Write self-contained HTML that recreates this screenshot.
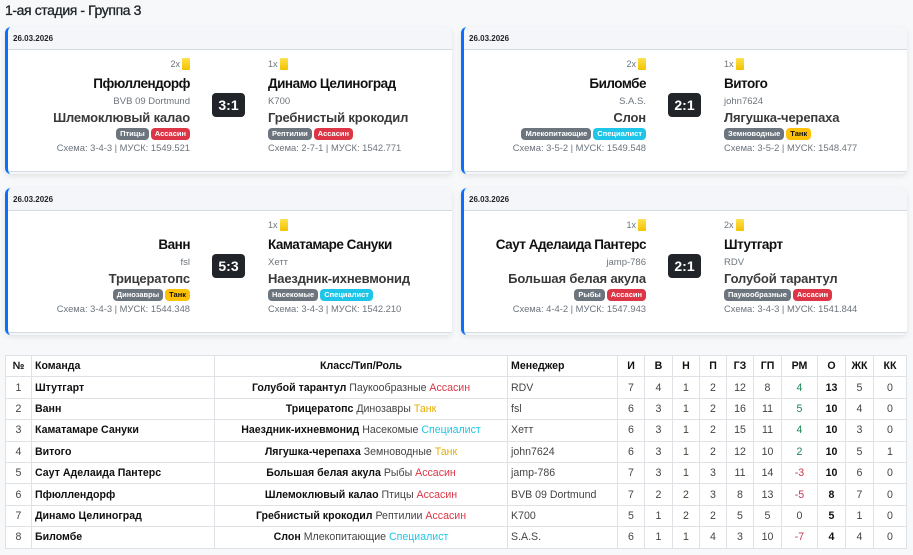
<!DOCTYPE html>
<html><head><meta charset="utf-8">
<style>
*{box-sizing:border-box;margin:0;padding:0}
html,body{width:913px;height:555px;overflow:hidden;background:#f6f8fa;font-family:"Liberation Sans","Noto Sans CJK SC",sans-serif;color:#212529}
.title{position:absolute;left:5px;top:1px;font-size:14px;letter-spacing:-0.4px;line-height:18px;color:#212529;-webkit-text-stroke:0.3px #212529}
.card{position:absolute;width:447px;height:147px;background:#fff;border-left:3px solid #0d6efd;border-radius:6px;box-shadow:0 2px 6px rgba(0,0,0,0.09);overflow:hidden}
.hdr{position:absolute;left:0;top:0;right:0;height:23px;background:#f4f6f9;border-bottom:1px solid #d5dae0}
.hdr span{position:absolute;left:5px;top:6px;font-size:8px;font-weight:bold;line-height:11px;color:#212529}
.ftr{position:absolute;left:0;right:0;top:144px;height:4px;background:#f4f6f9;border-top:1px solid #d5dae0}
.col{position:absolute;top:0;width:182px}
.L{left:0;text-align:right}
.R{left:260px;text-align:left}
.yc{position:absolute;top:31px;height:12px;font-size:9px;line-height:12px;color:#6c757d;width:182px}
.yc i{display:inline-block;width:8px;height:12px;background:linear-gradient(#ffe14d,#f2c200);border-radius:1px;vertical-align:top;margin-left:2px}
.nm{position:absolute;top:48px;width:182px;font-size:13.5px;letter-spacing:-0.5px;font-weight:bold;line-height:18px;color:#111;white-space:nowrap}
.mg{position:absolute;top:69px;width:182px;font-size:9.5px;line-height:12px;color:#6c757d;white-space:nowrap}
.cl{position:absolute;top:82px;width:182px;font-size:13px;letter-spacing:-0.15px;font-weight:bold;line-height:17px;color:#3a3a3a;white-space:nowrap}
.bd{position:absolute;top:101px;width:182px;height:12px;white-space:nowrap}
.bd b{display:inline-block;height:12px;line-height:12px;font-size:7.5px;font-weight:bold;color:#fff;padding:0 4px;border-radius:4px;margin-left:2px;vertical-align:top}
.R .bd b{margin-left:0;margin-right:2px}
.g{background:#6c757d}.r{background:#dc3545}.c{background:#1ec5e8}.y{background:#ffc107;color:#111!important}
.sc{position:absolute;top:115px;width:182px;font-size:9.4px;line-height:12px;color:#6c757d;white-space:nowrap}
.L>div{right:0}
.score{position:absolute;left:204px;top:66px;width:33px;height:24px;background:#212529;border-radius:4px;color:#fff;font-size:14px;font-weight:bold;line-height:24px;text-align:center}
table{position:absolute;left:5px;top:355px;width:901px;border-collapse:collapse;table-layout:fixed;background:#fff;font-size:10.6px;color:#212529}
td,th{border:1px solid #dee2e6;height:21.4px;padding:0 3px;white-space:nowrap;overflow:hidden}
th{font-weight:bold;text-align:center;color:#111}
td{text-align:center;color:#444}
.tl{text-align:left}
.tb{font-weight:bold;color:#111}
.rd{color:#dc3545}.yl{color:#e6ad06}.cy{color:#1ec5e8}.gr{color:#198754}.ng{color:#c8364f}
</style></head><body>
<div class="title">1-ая стадия - Группа 3</div>

<div class="card" style="left:5px;top:27px">
 <div class="hdr"><span>26.03.2026</span></div>
 <div class="col L">
  <div class="yc">2x<i></i></div>
  <div class="nm">Пфюллендорф</div>
  <div class="mg">BVB 09 Dortmund</div>
  <div class="cl">Шлемоклювый калао</div>
  <div class="bd"><b class="g">Птицы</b><b class="r">Ассасин</b></div>
  <div class="sc">Схема: 3-4-3 | МУСК: 1549.521</div>
 </div>
 <div class="score">3:1</div>
 <div class="col R">
  <div class="yc">1x<i></i></div>
  <div class="nm">Динамо Целиноград</div>
  <div class="mg">K700</div>
  <div class="cl">Гребнистый крокодил</div>
  <div class="bd"><b class="g">Рептилии</b><b class="r">Ассасин</b></div>
  <div class="sc">Схема: 2-7-1 | МУСК: 1542.771</div>
 </div>
 <div class="ftr"></div>
</div>

<div class="card" style="left:461px;top:27px;width:446px">
 <div class="hdr"><span>26.03.2026</span></div>
 <div class="col L">
  <div class="yc">2x<i></i></div>
  <div class="nm">Биломбе</div>
  <div class="mg">S.A.S.</div>
  <div class="cl">Слон</div>
  <div class="bd"><b class="g">Млекопитающие</b><b class="c">Специалист</b></div>
  <div class="sc">Схема: 3-5-2 | МУСК: 1549.548</div>
 </div>
 <div class="score">2:1</div>
 <div class="col R">
  <div class="yc">1x<i></i></div>
  <div class="nm">Витого</div>
  <div class="mg">john7624</div>
  <div class="cl">Лягушка-черепаха</div>
  <div class="bd"><b class="g">Земноводные</b><b class="y">Танк</b></div>
  <div class="sc">Схема: 3-5-2 | МУСК: 1548.477</div>
 </div>
 <div class="ftr"></div>
</div>

<div class="card" style="left:5px;top:188px">
 <div class="hdr"><span>26.03.2026</span></div>
 <div class="col L">
  <div class="nm">Ванн</div>
  <div class="mg">fsl</div>
  <div class="cl">Трицератопс</div>
  <div class="bd"><b class="g">Динозавры</b><b class="y">Танк</b></div>
  <div class="sc">Схема: 3-4-3 | МУСК: 1544.348</div>
 </div>
 <div class="score">5:3</div>
 <div class="col R">
  <div class="yc">1x<i></i></div>
  <div class="nm">Каматамаре Сануки</div>
  <div class="mg">Хетт</div>
  <div class="cl">Наездник-ихневмонид</div>
  <div class="bd"><b class="g">Насекомые</b><b class="c">Специалист</b></div>
  <div class="sc">Схема: 3-4-3 | МУСК: 1542.210</div>
 </div>
 <div class="ftr"></div>
</div>

<div class="card" style="left:461px;top:188px;width:446px">
 <div class="hdr"><span>26.03.2026</span></div>
 <div class="col L">
  <div class="yc">1x<i></i></div>
  <div class="nm">Саут Аделаида Пантерс</div>
  <div class="mg">jamp-786</div>
  <div class="cl">Большая белая акула</div>
  <div class="bd"><b class="g">Рыбы</b><b class="r">Ассасин</b></div>
  <div class="sc">Схема: 4-4-2 | МУСК: 1547.943</div>
 </div>
 <div class="score">2:1</div>
 <div class="col R">
  <div class="yc">2x<i></i></div>
  <div class="nm">Штутгарт</div>
  <div class="mg">RDV</div>
  <div class="cl">Голубой тарантул</div>
  <div class="bd"><b class="g">Паукообразные</b><b class="r">Ассасин</b></div>
  <div class="sc">Схема: 3-4-3 | МУСК: 1541.844</div>
 </div>
 <div class="ftr"></div>
</div>

<table>
<colgroup>
<col style="width:26px"><col style="width:183px"><col style="width:293px"><col style="width:110px">
<col style="width:27px"><col style="width:28px"><col style="width:27px"><col style="width:27px">
<col style="width:27px"><col style="width:28px"><col style="width:36px"><col style="width:28px">
<col style="width:28px"><col style="width:33px">
</colgroup>
<tr><th>№</th><th class="tl">Команда</th><th>Класс/Тип/Роль</th><th class="tl">Менеджер</th><th>И</th><th>В</th><th>Н</th><th>П</th><th>ГЗ</th><th>ГП</th><th>РМ</th><th>О</th><th>ЖК</th><th>КК</th></tr>
<tr><td>1</td><td class="tl tb">Штутгарт</td><td><span class="tb">Голубой тарантул</span> Паукообразные <span class="rd">Ассасин</span></td><td class="tl">RDV</td><td>7</td><td>4</td><td>1</td><td>2</td><td>12</td><td>8</td><td class="gr">4</td><td class="tb">13</td><td>5</td><td>0</td></tr>
<tr><td>2</td><td class="tl tb">Ванн</td><td><span class="tb">Трицератопс</span> Динозавры <span class="yl">Танк</span></td><td class="tl">fsl</td><td>6</td><td>3</td><td>1</td><td>2</td><td>16</td><td>11</td><td class="gr">5</td><td class="tb">10</td><td>4</td><td>0</td></tr>
<tr><td>3</td><td class="tl tb">Каматамаре Сануки</td><td><span class="tb">Наездник-ихневмонид</span> Насекомые <span class="cy">Специалист</span></td><td class="tl">Хетт</td><td>6</td><td>3</td><td>1</td><td>2</td><td>15</td><td>11</td><td class="gr">4</td><td class="tb">10</td><td>3</td><td>0</td></tr>
<tr><td>4</td><td class="tl tb">Витого</td><td><span class="tb">Лягушка-черепаха</span> Земноводные <span class="yl">Танк</span></td><td class="tl">john7624</td><td>6</td><td>3</td><td>1</td><td>2</td><td>12</td><td>10</td><td class="gr">2</td><td class="tb">10</td><td>5</td><td>1</td></tr>
<tr><td>5</td><td class="tl tb">Саут Аделаида Пантерс</td><td><span class="tb">Большая белая акула</span> Рыбы <span class="rd">Ассасин</span></td><td class="tl">jamp-786</td><td>7</td><td>3</td><td>1</td><td>3</td><td>11</td><td>14</td><td class="ng">-3</td><td class="tb">10</td><td>6</td><td>0</td></tr>
<tr><td>6</td><td class="tl tb">Пфюллендорф</td><td><span class="tb">Шлемоклювый калао</span> Птицы <span class="rd">Ассасин</span></td><td class="tl">BVB 09 Dortmund</td><td>7</td><td>2</td><td>2</td><td>3</td><td>8</td><td>13</td><td class="ng">-5</td><td class="tb">8</td><td>7</td><td>0</td></tr>
<tr><td>7</td><td class="tl tb">Динамо Целиноград</td><td><span class="tb">Гребнистый крокодил</span> Рептилии <span class="rd">Ассасин</span></td><td class="tl">K700</td><td>5</td><td>1</td><td>2</td><td>2</td><td>5</td><td>5</td><td>0</td><td class="tb">5</td><td>1</td><td>0</td></tr>
<tr><td>8</td><td class="tl tb">Биломбе</td><td><span class="tb">Слон</span> Млекопитающие <span class="cy">Специалист</span></td><td class="tl">S.A.S.</td><td>6</td><td>1</td><td>1</td><td>4</td><td>3</td><td>10</td><td class="ng">-7</td><td class="tb">4</td><td>4</td><td>0</td></tr>
</table>
</body></html>
